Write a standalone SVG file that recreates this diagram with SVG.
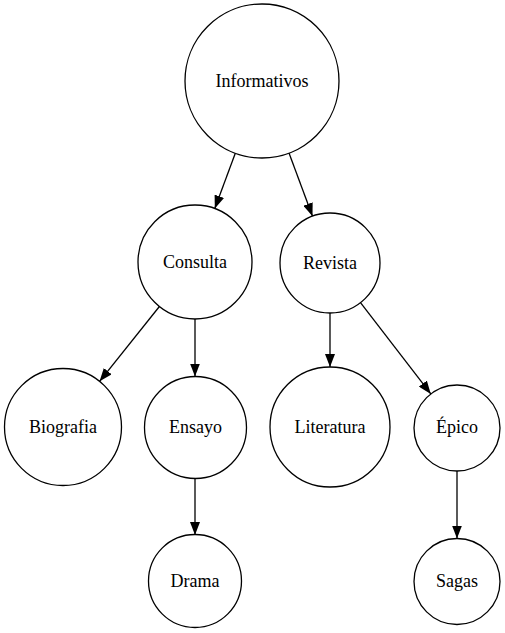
<svg xmlns="http://www.w3.org/2000/svg" width="505" height="633" viewBox="0 0 505 633">
<style>
.n{fill:#fff;stroke:#000;stroke-width:1.3}
.e{stroke:#000;stroke-width:1.3;fill:none;marker-end:url(#ah)}
</style>
<defs>
<marker id="ah" markerUnits="userSpaceOnUse" markerWidth="13" markerHeight="10" refX="13" refY="5" orient="auto">
<path d="M0,0 L13,5 L0,10 z" fill="#000"/>
</marker>
</defs>
<rect width="505" height="633" fill="#fff"/>
<g id="edges">
<line class="e" x1="235.3" y1="153.2" x2="214.8" y2="208.5"/>
<line class="e" x1="289" y1="153.1" x2="312.5" y2="216.2"/>
<line class="e" x1="159.4" y1="306.5" x2="99.6" y2="381.3"/>
<line class="e" x1="195" y1="319" x2="195" y2="376.5"/>
<line class="e" x1="330" y1="313" x2="330" y2="367"/>
<line class="e" x1="360.5" y1="302.6" x2="430.8" y2="393.9"/>
<line class="e" x1="195" y1="478.5" x2="195" y2="535"/>
<line class="e" x1="457" y1="471" x2="457" y2="538.5"/>
</g>
<g font-family="Liberation Serif, Times New Roman, serif" font-size="18" text-anchor="middle" fill="#000">
<g id="Informativos"><circle class="n" cx="262" cy="81" r="77"/><text x="262" y="87">Informativos</text></g>
<g id="Consulta"><circle class="n" cx="195" cy="262" r="57"/><text x="195" y="268">Consulta</text></g>
<g id="Revista"><circle class="n" cx="330" cy="263" r="50"/><text x="330" y="269">Revista</text></g>
<g id="Biografia"><circle class="n" cx="63" cy="427" r="58.5"/><text x="63" y="433">Biografia</text></g>
<g id="Ensayo"><circle class="n" cx="195.5" cy="427.5" r="51"/><text x="195.5" y="433">Ensayo</text></g>
<g id="Literatura"><circle class="n" cx="330" cy="427" r="60"/><text x="330" y="433">Literatura</text></g>
<g id="Epico"><circle class="n" cx="457" cy="428" r="43"/><text x="457" y="433">Épico</text></g>
<g id="Drama"><circle class="n" cx="195" cy="581" r="46.5"/><text x="195" y="587">Drama</text></g>
<g id="Sagas"><circle class="n" cx="457" cy="581.5" r="43"/><text x="457" y="587">Sagas</text></g>
</g>
</svg>
